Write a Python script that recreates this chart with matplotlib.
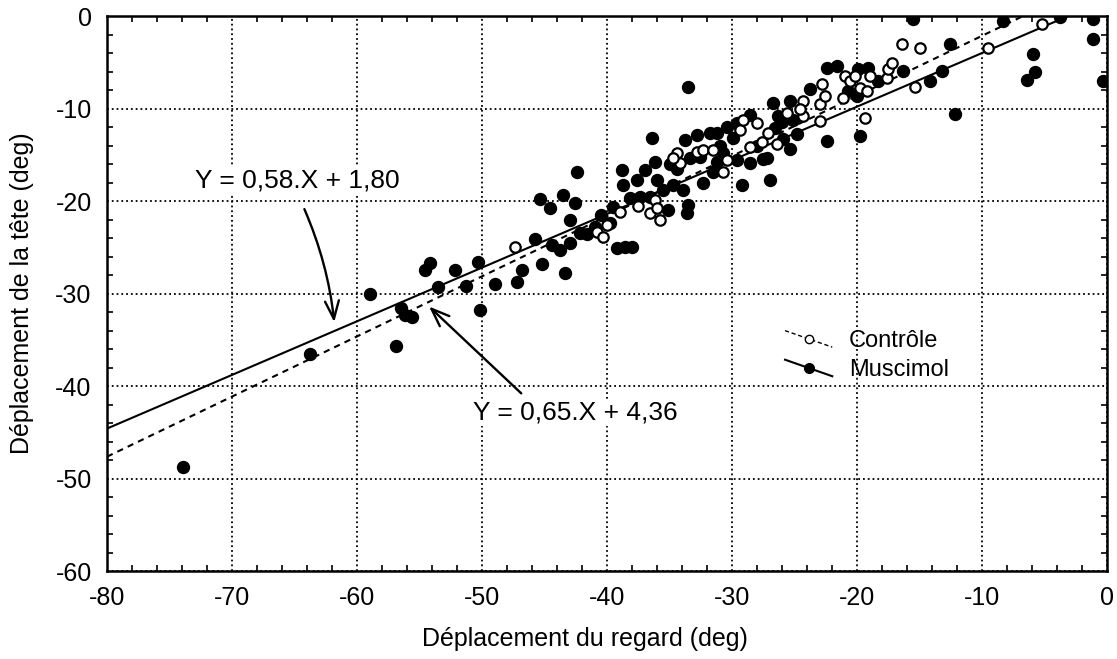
import numpy as np
import matplotlib.pyplot as plt
from matplotlib.lines import Line2D
from matplotlib.legend_handler import HandlerLine2D
from matplotlib.ticker import MultipleLocator

plt.rcParams['font.family'] = ['Liberation Sans', 'DejaVu Sans']
plt.rcParams['axes.unicode_minus'] = False

# Muscimol (points pleins)
musc_x = [-73.9, -63.8, -59.0, -56.9, -56.5, -56.2, -55.6, -54.6, -54.2, -53.5,
          -52.2, -51.3, -50.3, -50.2, -49.0, -47.2, -46.8, -45.8, -45.2, -45.4,
          -44.6, -43.5, -42.6, -42.4, -43.0, -44.4, -43.8, -43.4, -43.0, -42.2,
          -41.6, -39.8, -39.2, -38.6, -38.0, -38.8, -38.7, -37.6, -37.0, -36.2,
          -36.4, -39.5, -38.2, -37.4, -36.6, -36.0, -35.1, -35.5, -34.7, -33.6,
          -33.5, -33.9, -33.8, -32.8, -33.4, -32.6, -31.8, -31.2, -30.7, -32.3,
          -31.5, -31.2, -30.4, -29.6, -28.6, -29.9, -29.6, -29.2, -28.6, -27.2,
          -27.0, -27.5, -26.7, -26.3, -26.6, -25.9, -25.4, -25.1, -24.8, -25.4,
          -23.8, -22.4, -21.6, -22.4, -20.7, -20.0, -19.9, -19.1, -18.3, -19.8,
          -16.3, -15.5, -14.2, -13.2, -12.6, -12.2, -8.3, -3.8, -1.1, -1.1,
          -0.3, -5.9, -5.8, -6.4, -33.5, -34.4, -35.0, -28.0, -31.0, -26.0,
          -40.5, -41.0]
musc_y = [-48.8, -36.5, -30.1, -35.7, -31.6, -32.3, -32.5, -27.5, -26.7, -29.3,
          -27.5, -29.2, -26.6, -31.8, -29.0, -28.8, -27.5, -24.1, -26.8, -19.8,
          -20.8, -19.4, -20.2, -16.9, -22.1, -24.8, -25.3, -27.8, -24.5, -23.5,
          -23.6, -22.4, -25.1, -25.0, -25.0, -16.6, -18.3, -17.7, -16.6, -15.8,
          -13.2, -20.6, -19.7, -19.6, -19.6, -17.7, -21.0, -18.8, -18.3, -21.3,
          -20.4, -18.8, -13.4, -12.9, -15.4, -15.2, -12.7, -12.7, -14.8, -18.1,
          -16.9, -15.8, -12.0, -11.6, -10.7, -13.2, -15.6, -18.3, -15.9, -15.4,
          -17.7, -15.5, -9.4, -10.8, -12.1, -13.3, -9.2, -11.2, -12.8, -14.4,
          -7.9, -5.6, -5.4, -13.5, -8.1, -8.6, -5.7, -5.6, -7.0, -13.0,
          -5.9, -0.3, -7.0, -5.9, -3.0, -10.6, -0.5, -0.1, -0.3, -2.5,
          -7.0, -4.1, -6.0, -6.9, -7.7, -16.5, -16.0, -14.0, -14.0, -11.5,
          -21.5, -22.8]

# Contrôle (points vides)
ctrl_x = [-47.4, -40.8, -40.3, -39.0, -36.6, -36.2, -35.8, -36.0, -34.2, -34.4,
          -34.7, -32.8, -32.3, -31.5, -30.7, -30.4, -29.4, -28.6, -28.0, -29.1,
          -27.6, -27.1, -26.4, -25.6, -24.3, -24.3, -24.6, -23.0, -23.0, -22.8,
          -22.6, -21.1, -21.0, -20.6, -20.2, -19.8, -19.2, -19.0, -19.4, -17.6,
          -17.5, -17.2, -16.4, -15.0, -15.4, -9.5, -5.2, -40.0, -37.5]
ctrl_y = [-25.0, -23.3, -23.9, -21.2, -21.3, -19.9, -22.1, -20.8, -15.9, -14.8,
          -15.4, -14.7, -14.5, -14.5, -16.9, -15.6, -12.3, -14.2, -11.6, -11.2,
          -13.6, -12.6, -13.8, -10.5, -9.2, -10.8, -10.0, -9.5, -11.4, -7.4,
          -8.6, -8.9, -6.5, -7.0, -6.5, -7.8, -8.1, -6.5, -11.0, -6.7,
          -5.7, -5.1, -3.0, -3.5, -7.7, -3.5, -0.9, -22.6, -20.5]

# droites de régression : Y = a.X + b
musc_a, musc_b = 0.58, 1.80
ctrl_a, ctrl_b = 0.65, 4.36


class DiagHandler(HandlerLine2D):
    # ligne de légende en diagonale, comme sur la figure d'origine
    def create_artists(self, legend, orig_handle, xdescent, ydescent,
                       width, height, fontsize, trans):
        artists = super().create_artists(legend, orig_handle, xdescent, ydescent,
                                         width, height, fontsize, trans)
        line = artists[0]
        xd = line.get_xdata()
        mid = (height - ydescent) / 2
        line.set_ydata(np.linspace(mid + 0.5 * height, mid - 0.5 * height, len(xd)))
        return artists


fig = plt.figure(figsize=(11.17, 6.59), dpi=100)
ax = fig.add_axes([0.0958, 0.1335, 0.8953, 0.8422])

x_fit = np.array([-80, 0])
ax.plot(x_fit, musc_a * x_fit + musc_b, color='black', lw=1.5, zorder=2)
ax.plot(x_fit, ctrl_a * x_fit + ctrl_b, color='black', lw=1.5,
        linestyle=(0, (3, 2.5)), zorder=2)

ax.plot(musc_x, musc_y, 'o', color='black', markersize=8.6, ls='none', zorder=3)
ax.plot(ctrl_x, ctrl_y, 'o', markerfacecolor='white', markeredgecolor='black',
        markeredgewidth=1.6, markersize=7.5, ls='none', zorder=4)

ax.set_xlim(-80, 0)
ax.set_ylim(-60, 0)
ax.xaxis.set_major_locator(MultipleLocator(10))
ax.yaxis.set_major_locator(MultipleLocator(10))
ax.xaxis.set_minor_locator(MultipleLocator(2))
ax.yaxis.set_minor_locator(MultipleLocator(2))
ax.tick_params(which='major', length=0, labelsize=18, pad=11)
ax.tick_params(which='minor', direction='in', length=4, width=1.2,
               top=True, right=True)
ax.grid(True, which='major', color='black', linestyle=':', linewidth=1.3)
for s in ax.spines.values():
    s.set_linewidth(1.8)

ax.set_xlabel('Déplacement du regard (deg)', fontsize=18)
ax.set_ylabel('Déplacement de la tête (deg)', fontsize=18)
ax.xaxis.set_label_coords(0.478, -0.100)
ax.yaxis.set_label_coords(-0.073, 0.5)

# équations avec flèches
fleche = dict(arrowstyle='->,head_length=1.3,head_width=0.5', lw=1.7, color='black')
ax.annotate('', xy=(-61.8, -33.4), xytext=(-64.3, -20.6),
            arrowprops=dict(fleche, connectionstyle='arc3,rad=-0.08'))
ax.text(-73.0, -17.8, 'Y = 0,58.X + 1,80', fontsize=19, va='center', ha='left',
        bbox=dict(facecolor='white', edgecolor='none', pad=1))

ax.annotate('', xy=(-54.4, -31.2), xytext=(-46.7, -41.0), arrowprops=fleche)
ax.text(-50.7, -42.9, 'Y = 0,65.X + 4,36', fontsize=19, va='center', ha='left',
        bbox=dict(facecolor='white', edgecolor='none', pad=1))

handles = [
    Line2D([], [], color='black', lw=1, linestyle=(0, (3, 2)), marker='o',
           markerfacecolor='white', markeredgecolor='black', markersize=6),
    Line2D([], [], color='black', lw=1.5, marker='o', markersize=7),
]
leg = ax.legend(handles, ['Contrôle', 'Muscimol'], loc='upper left',
                bbox_to_anchor=(0.678, 0.434), frameon=False, fontsize=17,
                handlelength=2.0, handletextpad=0.7, labelspacing=0.3,
                borderpad=0, borderaxespad=0, numpoints=1,
                handler_map={Line2D: DiagHandler()})

plt.savefig('out.png', dpi=100)
